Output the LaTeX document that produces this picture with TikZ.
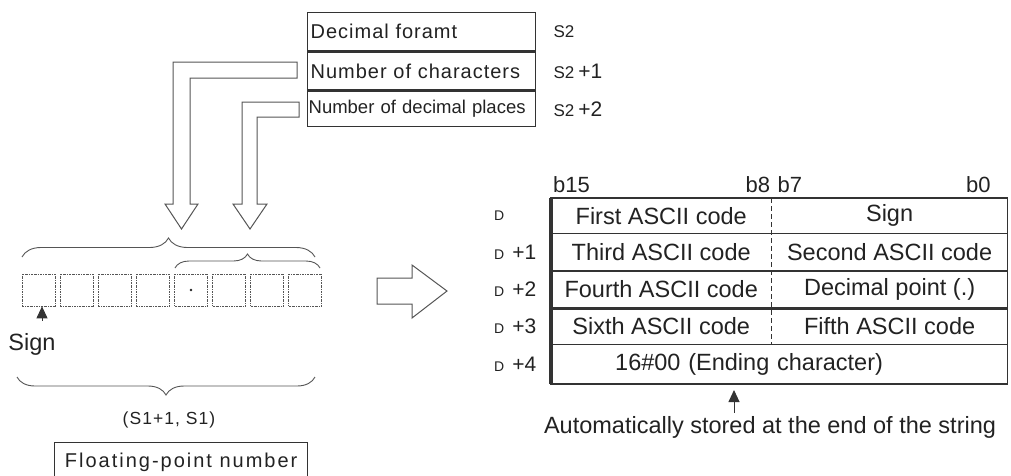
\documentclass[tikz,border=0pt]{standalone}
\usepackage{fontspec}
\setmainfont{Liberation Sans}
\usetikzlibrary{arrows.meta,positioning,decorations.pathreplacing}
\definecolor{ink}{HTML}{222222}
\definecolor{rule}{HTML}{333333}
\definecolor{outl}{HTML}{555555}

\newcommand{\cellfont}{\fontsize{23.5}{27}\selectfont}
\newcommand{\rowfont}{\fontsize{20}{24}\selectfont\addfontfeature{LetterSpace=5}}
\newcommand{\smallrowfont}{\fontsize{18.5}{22}\selectfont}
\newcommand{\dlabfont}{\fontsize{14}{16}\selectfont}
\newcommand{\plusfont}{\fontsize{21}{24}\selectfont}
\newcommand{\stwofont}{\fontsize{17}{20}\selectfont}
\newcommand{\bitfont}{\fontsize{22}{26}\selectfont}
\newcommand{\fltfont}{\fontsize{20}{24}\selectfont\addfontfeature{LetterSpace=10}}
\newcommand{\pairfont}{\fontsize{17.5}{20}\selectfont\addfontfeature{LetterSpace=6}}

\begin{document}
\begin{tikzpicture}[x=1pt,y=-1pt,
    every node/.style={text=ink,inner sep=0pt},
    toprow/.style={draw=rule,line width=1.3pt,anchor=north west,minimum width=228pt,
                   text width=222pt,inner xsep=3pt,align=left},
    hollow/.style={draw=outl,line width=1pt,fill=white,line join=miter},
    digit/.style={draw=outl,line width=0.7pt,dash pattern=on 2pt off 1pt on 0.6pt off 1pt,
                  minimum width=33pt,minimum height=32pt},
    brc/.style={draw=outl,line width=0.9pt,decorate},
    ptr/.style={draw=rule,line width=1pt,-{Triangle[length=12pt,width=11pt]}},
    lcell/.style={anchor=north west,minimum width=220pt,font=\cellfont},
    rcell/.style={anchor=north west,minimum width=236pt,font=\cellfont},
    tabline/.style={draw=rule,line width=1.6pt},
    dlab/.style={anchor=west,font=\dlabfont},
    blab/.style={font=\bitfont}]
  \clip (0,0) rectangle (1011,475);

  % source words S2 .. S2+2
  \node[toprow,minimum height=38pt,font=\rowfont] (fmt) at (307,12) {Decimal foramt};
  \node[toprow,minimum height=38pt,font=\rowfont,below=0pt of fmt] (nchar) {Number of characters};
  \node[toprow,minimum height=35pt,font=\smallrowfont,text width=226pt,inner xsep=1pt,
        below=0pt of nchar] (ndec) {\mbox{Number of decimal places}};
  \node[anchor=west,right=17pt of fmt] (s2a) {\stwofont S2};
  \node[anchor=west,right=17pt of nchar] (s2b) {\stwofont S2\hspace{4pt}\plusfont +1};
  \node[anchor=west,right=17pt of ndec] (s2c) {\stwofont S2\hspace{4pt}\plusfont +2};

  % bent arrows down to the digits
  \draw[hollow] (297,62) -- (173,62) -- (173,204) -- (165,204) -- (181.5,229)
        -- (198,204) -- (190,204) -- (190,78) -- (297,78) -- cycle;
  \draw[hollow] (299,102) -- (242,102) -- (242,204) -- (233,204) -- (250,229)
        -- (267,204) -- (257,204) -- (257,117) -- (299,117) -- cycle;

  % the character slots
  \foreach \i in {0,...,7}
    \node[digit] (dig\i) at ({38.6+38.1*\i},290) {};
  \fill[ink] (dig4.center) circle (1.3pt);

  \draw[brc,decoration={brace,amplitude=19pt}] (22,257) -- (315,257);
  \draw[brc,decoration={brace,amplitude=14pt}] (175,268) -- (320,268);
  \draw[brc,decoration={brace,amplitude=18pt}] (315,377) -- (17,377);

  \node[anchor=base,font=\cellfont] (sign) at (32,350) {Sign};
  \draw[ptr] ([xshift=10pt,yshift=12pt]sign.north) -- ([xshift=10pt]sign.north |- dig0.south);

  \node (pair) at (169,420) {\pairfont (S1+1, S1)};
  \node[draw=rule,line width=1.3pt,anchor=north west,minimum width=253pt,minimum height=40pt]
    (flt) at (54,442) {\fltfont Floating-point number};

  % conversion arrow
  \draw[hollow] (377,278) -- (412,278) -- (412,265) -- (447,291) -- (412,318)
        -- (412,304) -- (377,304) -- cycle;

  % result words D .. D+4
  \node[lcell,minimum height=35pt] (r0l) at (551,198) {First ASCII code};
  \node[rcell,minimum height=35pt] (r0r) at (r0l.north east) {Sign};
  \node[lcell,minimum height=37pt] (r1l) at (r0l.south west) {Third ASCII code};
  \node[rcell,minimum height=37pt] (r1r) at (r1l.north east) {Second ASCII code};
  \node[lcell,minimum height=37pt] (r2l) at (r1l.south west) {Fourth ASCII code};
  \node[rcell,minimum height=37pt] (r2r) at (r2l.north east) {Decimal point (.)};
  \node[lcell,minimum height=36pt] (r3l) at (r2l.south west) {Sixth ASCII code};
  \node[rcell,minimum height=36pt] (r3r) at (r3l.north east) {Fifth ASCII code};
  \node[anchor=north west,minimum height=39pt,text width=456pt,align=left,font=\cellfont]
    (r4) at (r3l.south west) {\hspace*{64pt}16\#00 (Ending character)};

  \draw[tabline] (r0l.north west) rectangle (r4.south east);
  \draw[tabline] (r0l.south west) -- (r0r.south east);
  \draw[tabline] (r1l.south west) -- (r1r.south east);
  \draw[tabline,line width=3pt] (r2l.south west) -- (r2r.south east);
  \draw[tabline] (r3l.south west) -- (r3r.south east);
  \draw[tabline,dashed,dash pattern=on 5pt off 3pt] (r0l.north east) -- (r3l.south east);
  \draw[draw=rule,line width=3.5pt] (r0l.north west) -- (r4.south west);

  \node[blab,anchor=base west] (b15) at ([xshift=2pt,yshift=6pt]r0l.north west) {b15};
  \node[blab,anchor=base east] (b8) at ([xshift=-1pt,yshift=6pt]r0l.north east) {b8};
  \node[blab,anchor=base west] (b7) at ([xshift=6pt,yshift=6pt]r0l.north east) {b7};
  \node[blab,anchor=base east] (b0) at ([xshift=-17pt,yshift=6pt]r0r.north east) {b0};

  \node[dlab] (d0) at ([xshift=-57pt]r0l.west) {D};
  \node[dlab] (d1) at ([xshift=-57pt]r1l.west) {D\hspace{8pt}\plusfont +1};
  \node[dlab] (d2) at ([xshift=-57pt]r2l.west) {D\hspace{8pt}\plusfont +2};
  \node[dlab] (d3) at ([xshift=-57pt]r3l.west) {D\hspace{8pt}\plusfont +3};
  \node[dlab] (d4) at ([xshift=-57pt]r4.west) {D\hspace{8pt}\plusfont +4};

  \node[anchor=base,font=\cellfont] (auto) at (770,433) {Automatically stored at the end of the string};
  \draw[ptr,shorten >=6pt] ([xshift=-36pt,yshift=3pt]auto.north) -- ([xshift=-36pt]auto.north |- r4.south);
\end{tikzpicture}
\end{document}
